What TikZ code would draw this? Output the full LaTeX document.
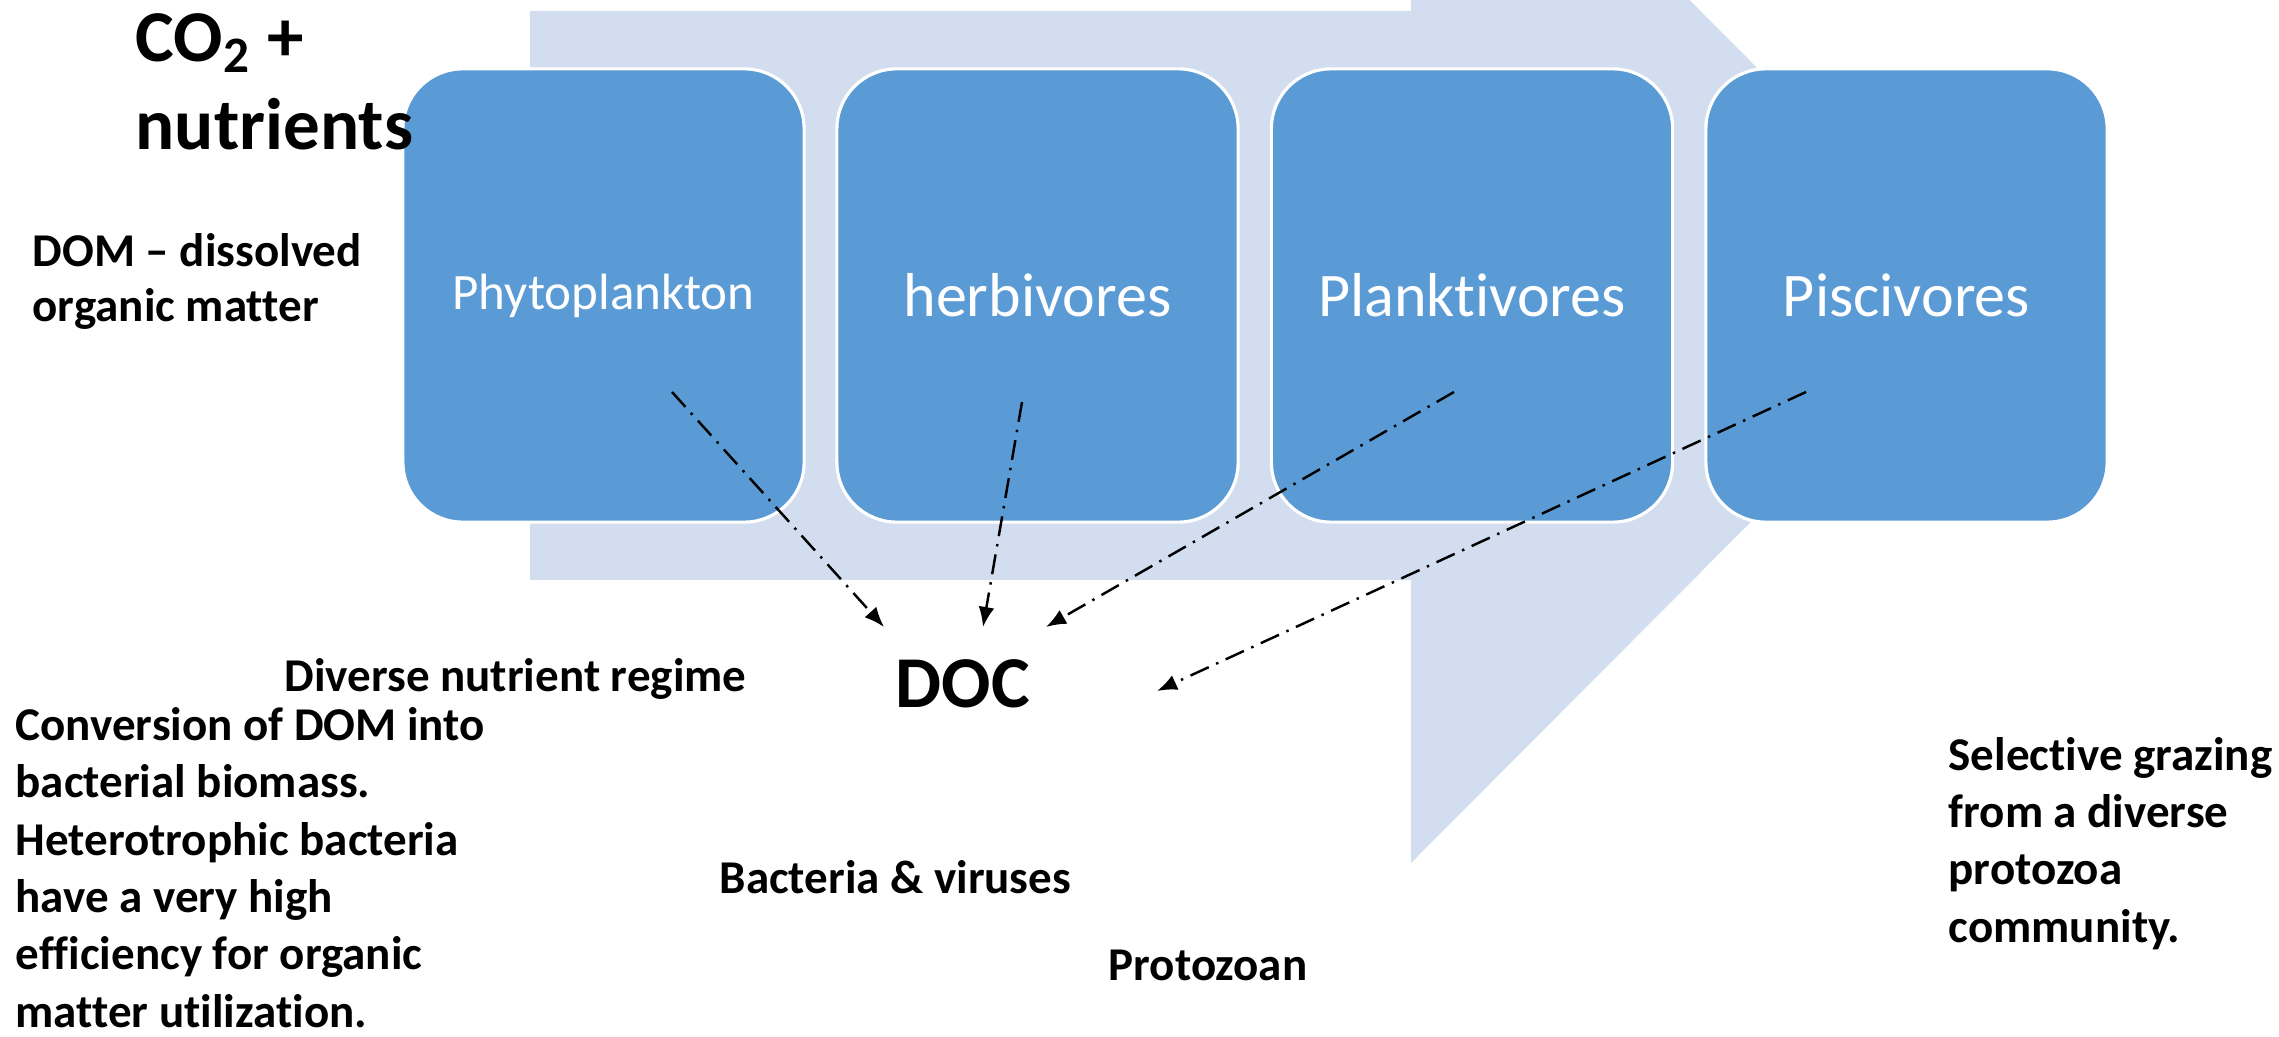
\documentclass[tikz,border=0pt]{standalone}
\usepackage{fontspec}
\setmainfont{Carlito}[Ligatures=NoCommon]
\usetikzlibrary{arrows.meta}
\definecolor{boxblue}{HTML}{5B9BD5}
\definecolor{chevron}{HTML}{D2DEEF}
\begin{document}
\begin{tikzpicture}[x=0.01cm,y=-0.01cm,
  stage/.style={draw=white, line width=0.9pt, fill=boxblue, rounded corners=17pt,
    minimum width=4.01cm, minimum height=4.53cm, inner sep=0pt, text=white,
    font=\fontsize{17.64pt}{21pt}\selectfont},
  lbl/.style={font=\bfseries\fontsize{13.37pt}{16.3pt}\selectfont, inner sep=0pt,
    align=left, anchor=base west},
  flow/.style={line width=0.7pt, dash pattern=on 5.7pt off 2.3pt on 0.7pt off 2.3pt,
    -{Latex[length=5.7pt,width=4.5pt]}}]
\useasboundingbox (0,0) rectangle (2279,1037);
% big background arrow
\begin{scope}
  \clip (0,0) rectangle (2279,1037);
  \fill[chevron] (530,11) -- (1411,11) -- (1411,-280) -- (1980,292) -- (1411,863)
    -- (1411,580) -- (530,580) -- cycle;
\end{scope}
% stages
\node[stage, font=\fontsize{14.5pt}{17pt}\selectfont] (phyto) at (603.5,295.5) {Phytoplankton};
\node[stage] (herb) at (1037.5,295.5) {herbivores};
\node[stage] (plank) at (1472,295.5) {Planktivores};
\node[stage] (pisc) at (1906.5,295.5) {Piscivores};
% texts (anchor = baseline of the last line)
\node[lbl, font=\bfseries\fontsize{20.77pt}{25.04pt}\selectfont] (co2) at (135,150) {CO\textsubscript{2} +\\nutrients};
\node[lbl, font=\bfseries\fontsize{13.37pt}{15.65pt}\selectfont] (dom) at (32,322) {DOM – dissolved\\organic matter};
\node[lbl] (regime) at (284,692) {Diverse nutrient regime};
\node[lbl] (conv) at (15,1027) {Conversion of DOM into\\bacterial biomass.\\Heterotrophic bacteria\\have a very high\\efficiency for organic\\matter utilization.};
\node[lbl, anchor=base, font=\bfseries\fontsize{20.77pt}{25pt}\selectfont] (doc) at (963,707) {DOC};
\node[lbl] (bact) at (719,893) {Bacteria \& viruses};
\node[lbl] (proto) at (1108,980) {Protozoan};
\node[lbl] (select) at (1948,942) {Selective grazing\\from a diverse\\protozoa\\community.};
% connectors
\coordinate (phyS) at (672,392);
\coordinate (herbS) at (1022,402);
\coordinate (plankS) at (1454,392);
\coordinate (piscS) at (1806,392);
\coordinate (phyE) at (884,627);
\coordinate (herbE) at (983,627);
\coordinate (plankE) at (1046,627);
\coordinate (piscE) at (1157,691);
\draw[flow] (phyS) -- (phyE);
\draw[flow] (herbS) -- (herbE);
\draw[flow] (plankS) -- (plankE);
\draw[flow] (piscS) -- (piscE);
\end{tikzpicture}
\end{document}
